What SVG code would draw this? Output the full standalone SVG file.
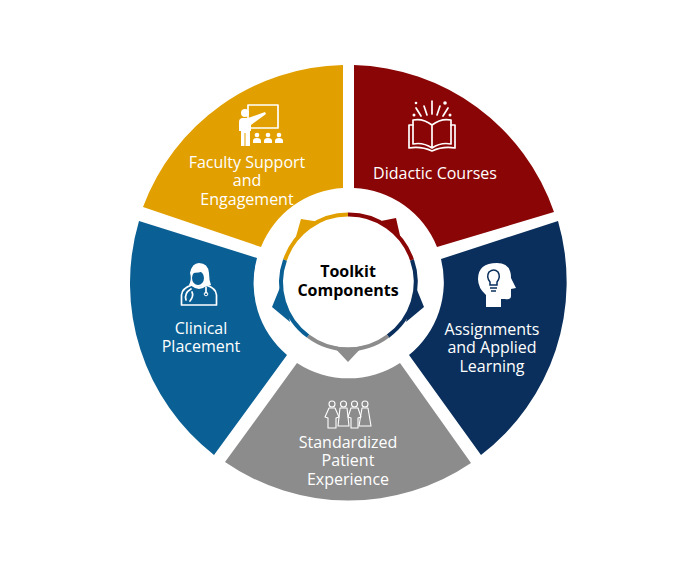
<svg xmlns="http://www.w3.org/2000/svg" width="696" height="564" viewBox="0 0 696 564">
<style>
.t{font-family:"Open Sans","Noto Sans",sans-serif;font-size:16px;fill:#fff;text-anchor:middle}
.c{font-family:"Open Sans","Noto Sans",sans-serif;font-size:16px;font-weight:700;fill:#000;text-anchor:middle}
.w{fill:#fff}
.l{fill:none;stroke:#fff;stroke-width:1.7;stroke-linecap:round;stroke-linejoin:round}
.ring{fill:none;stroke-width:4}
</style>
<rect width="696" height="564" fill="#fff"/>
<g id="faculty-support">
<path d="M343 65A218 218 0 0 0 143 207L261 247A94 94 0 0 1 343 188Z" fill="#e2a000"/>
<rect class="l" x="248" y="105" width="30" height="23"/>
<circle class="w" cx="245" cy="113" r="4"/>
<path class="w" d="M239 122Q239 118 243 118H248L265 112L266 114L251 125V131H250V146H245.500V133H244.500V146H241V131H239Z"/>
<g class="w"><circle cx="257" cy="135" r="2.300"/><circle cx="268" cy="135" r="2.300"/><circle cx="279" cy="135" r="2.300"/><path d="M253 143V141Q253 138 257 138Q261 138 261 141V143Z"/><path d="M264 143V141Q264 138 268 138Q272 138 272 141V143Z"/><path d="M275 143V141Q275 138 279 138Q283 138 283 141V143Z"/></g>
<text class="t"><tspan x="247" y="168">Faculty Support</tspan><tspan x="247" y="186">and</tspan><tspan x="247" y="205">Engagement</tspan></text>
</g>
<g id="didactic-courses">
<path d="M354 65A218 218 0 0 1 554 212L437 247A94 94 0 0 0 354 188Z" fill="#8a0505"/>
<path class="l" d="M432 125Q423 118 413 120V144Q423 142 432 148Q441 142 451 144V120Q441 118 432 125ZM432 125V148"/>
<path class="l" d="M413 125H409V148Q421 146 432 151Q443 146 455 148V125H451"/>
<path class="l" d="M432 101V114M424 106L427 115M440 106L437 115M416 108L421 116M448 108L443 116"/>
<g class="w"><circle cx="414" cy="115" r="1.500"/><circle cx="450" cy="115" r="1.500"/><circle cx="416" cy="103" r="1.300"/><circle cx="445" cy="103" r="1.800"/></g>
<text class="t" x="435" y="179">Didactic Courses</text>
</g>
<g id="assignments">
<path d="M441 259L558 221A218 218 0 0 1 481 455L409 355A94 94 0 0 0 441 259Z" fill="#0a2f5c"/>
<path class="w" d="M486 307V295Q478 288 478 279Q478 263 497 263Q511 263 511 278L516 288L511 289V296Q511 300 505 299H501V307Z"/>
<path d="M490 282Q486 277 489 272Q494 268 498 272Q501 277 497 282V285H490Z" fill="none" stroke="#0a2f5c" stroke-width="1.500"/>
<path d="M490 288H497M491 291H496" stroke="#0a2f5c" stroke-width="1.400" fill="none"/>
<text class="t"><tspan x="492" y="335">Assignments</tspan><tspan x="492" y="353">and Applied</tspan><tspan x="492" y="372">Learning</tspan></text>
</g>
<g id="standardized-patient">
<path d="M297 363A94 94 0 0 0 400 363L471 463A218 218 0 0 1 225 462Z" fill="#8c8c8c"/>
<g fill="none" stroke="#fff" stroke-width="1.100" stroke-linejoin="round">
<circle cx="332" cy="404" r="3"/><path d="M329 408H335L339 417L336 418V428H328V418L325 417Z"/>
<circle cx="343.500" cy="404" r="3"/><path d="M340 408H347L349 426H338Z"/>
<circle cx="354.500" cy="404" r="3"/><path d="M351 408H358L361 417L358 418V428H351V418L348 417Z"/>
<circle cx="365" cy="404" r="3"/><path d="M362 408H368L371 426H359Z"/>
</g>
<text class="t"><tspan x="348" y="448">Standardized</tspan><tspan x="348" y="466">Patient</tspan><tspan x="348" y="485">Experience</tspan></text>
</g>
<g id="clinical-placement">
<path d="M139 221L257 258A94 94 0 0 0 287 355L214 455A218 218 0 0 1 139 221Z" fill="#0a5f94"/>
<path class="w" d="M189 285Q192 279 190 273Q192 263 199 263Q208 263 209 273Q209 280 211 285Q205 287 198 287Q193 287 189 285Z"/>
<ellipse cx="198" cy="278" rx="6" ry="7" fill="#0a5f94"/>
<path d="M192 272Q199 272 204 270" stroke="#fff" stroke-width="2" fill="none"/>
<path class="l" d="M192 285Q182 288 181.500 295V305H216.500V295Q216 288 206 285Q199 291 192 285Z"/>
<path class="l" d="M191 289Q184 293 186 300M190 301Q194 296 192 292M206 287L206 293"/>
<circle cx="206" cy="294" r="1.800" fill="none" stroke="#fff" stroke-width="1"/>
<text class="t"><tspan x="201" y="334">Clinical</tspan><tspan x="201" y="352">Placement</tspan></text>
</g>
<g id="toolkit-components">
<circle cx="348" cy="281" r="69" class="w"/>
<path d="M295 240L301 219L320 222Z" fill="#e2a000"/>
<path d="M376 222L396 218L401 240Z" fill="#8a0505"/>
<path d="M415 285L424 307L406 322Z" fill="#0a2f5c"/>
<path d="M281 285L272 307L290 322Z" fill="#0a5f94"/>
<path d="M332 345L348 362L364 345Z" fill="#8c8c8c"/>
<circle cx="348" cy="281" r="66.500" class="w"/>
<path class="ring" stroke="#e2a000" d="M285 260A66.500 66.500 0 0 1 348 214.500"/>
<path class="ring" stroke="#8a0505" d="M348 214.500A66.500 66.500 0 0 1 412 260"/>
<path class="ring" stroke="#0a2f5c" d="M412 260A66.500 66.500 0 0 1 388 336"/>
<path class="ring" stroke="#8c8c8c" d="M388 336A66.500 66.500 0 0 1 308 336"/>
<path class="ring" stroke="#0a5f94" d="M308 336A66.500 66.500 0 0 1 285 260"/>
<text class="c"><tspan x="348" y="277">Toolkit</tspan><tspan x="348" y="296">Components</tspan></text>
</g>
</svg>
